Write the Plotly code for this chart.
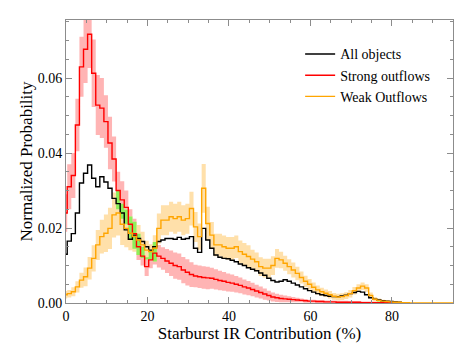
import plotly.graph_objects as go

# histogram bins: width 1, first left edge at -0.7
FIRST_EDGE = -0.7
BIN_WIDTH = 1.0

RED = [
    0.024, 0.031, 0.034, 0.0475, 0.063, 0.0677, 0.0717, 0.0613, 0.0528, 0.052,
    0.0484, 0.0427, 0.0384, 0.030, 0.0275, 0.0255, 0.021, 0.0185, 0.015, 0.0125,
    0.0097, 0.0115, 0.0133, 0.0125, 0.0119, 0.0112, 0.0106, 0.0100, 0.0097, 0.0088,
    0.0082, 0.0076, 0.0072, 0.0070, 0.0068, 0.0067, 0.0066, 0.0063, 0.0060, 0.0058,
    0.0055, 0.0053, 0.0050, 0.0047, 0.0043, 0.0040, 0.0036, 0.0032, 0.0028, 0.0024,
    0.0020, 0.0016, 0.0014, 0.0012, 0.0011, 0.0010, 0.0009, 0.0008, 0.0007, 0.0006,
    0.0005, 0.0005, 0.0004, 0.0004, 0.0003, 0.0003, 0.0003, 0.0002, 0.0002, 0.0002,
    0.0002, 0.0002, 0.0002, 0.0001, 0.0001, 0.0001, 0.0001, 0.0001, 0.0001, 0.0001,
    0.0001, 0.0001, 0.0001, 0.0, 0.0,
]
RED_ERR = [
    0.005, 0.006, 0.006, 0.007, 0.008, 0.009, 0.009, 0.009, 0.008, 0.008,
    0.007, 0.007, 0.006, 0.005, 0.005, 0.0045, 0.004, 0.004, 0.0035, 0.0025,
    0.0025, 0.0022, 0.003, 0.003, 0.003, 0.0032, 0.0034, 0.0035, 0.0035, 0.0035,
    0.0035, 0.0033, 0.003, 0.003, 0.003, 0.003, 0.0028, 0.0027, 0.0026, 0.0025,
    0.0024, 0.0023, 0.0022, 0.0021, 0.002, 0.0019, 0.0018, 0.0017, 0.0016, 0.0015,
    0.0013, 0.0012, 0.0011, 0.001, 0.0009, 0.0008, 0.0007, 0.0006, 0.0005, 0.0005,
    0.0004, 0.0004, 0.0004, 0.0004, 0.0004, 0.0004, 0.0004, 0.0004, 0.0004, 0.0004,
    0.0003, 0.0003, 0.0003, 0.0003, 0.0003, 0.0003, 0.0003, 0.0003, 0.0003, 0.0003,
    0.0002, 0.0002, 0.0001, 0.0, 0.0,
]
BLACK = [
    0.013, 0.0165, 0.0185, 0.024, 0.032, 0.0346, 0.0368, 0.0333, 0.031, 0.0337,
    0.0323, 0.0306, 0.0279, 0.0265, 0.024, 0.0195, 0.0170, 0.0181, 0.0172, 0.0164,
    0.0150, 0.0141, 0.0150, 0.0164, 0.0168, 0.0172, 0.0172, 0.0170, 0.0175, 0.0170,
    0.0172, 0.0177, 0.0146, 0.0135, 0.0199, 0.0168, 0.0146, 0.0128, 0.0122, 0.0119,
    0.0118, 0.0114, 0.0110, 0.0104, 0.0100, 0.0094, 0.0090, 0.0086, 0.0080, 0.0074,
    0.0066, 0.0060, 0.0056, 0.0058, 0.0062, 0.0058, 0.0053, 0.0048, 0.0043, 0.0038,
    0.0033, 0.0029, 0.0025, 0.0022, 0.0020, 0.0018, 0.0017, 0.0017, 0.0019, 0.0021,
    0.0025, 0.0028, 0.0031, 0.0029, 0.0022, 0.0014, 0.0010, 0.0008, 0.0006, 0.0005,
    0.0004, 0.0003, 0.0002, 0.0001, 0.0001,
]
ORANGE = [
    0.0022, 0.0025, 0.0030, 0.0043, 0.0061, 0.0070, 0.0093, 0.0119, 0.0155, 0.0177,
    0.0186, 0.0199, 0.0235, 0.0240, 0.0210, 0.0199, 0.0186, 0.0177, 0.0168, 0.0155,
    0.0141, 0.0137, 0.0146, 0.0199, 0.0221, 0.0221, 0.0230, 0.0225, 0.0230, 0.0221,
    0.0225, 0.0252, 0.0203, 0.0177, 0.0306, 0.0212, 0.0181, 0.0155, 0.0155, 0.0150,
    0.0146, 0.0146, 0.0150, 0.0137, 0.0130, 0.0124, 0.0117, 0.0110, 0.0097, 0.0093,
    0.0093, 0.0100, 0.0119, 0.0115, 0.0106, 0.0097, 0.0088, 0.0079, 0.0068, 0.0058,
    0.0050, 0.0042, 0.0035, 0.0030, 0.0026, 0.0022, 0.0018, 0.0016, 0.0017, 0.0020,
    0.0025, 0.0033, 0.0040, 0.0045, 0.0040, 0.0020, 0.0010, 0.0007, 0.0005, 0.0004,
    0.0003, 0.0002, 0.0002, 0.0001, 0.0001, 0.0, 0.0, 0.0, 0.0, 0.0,
    0.0, 0.0, 0.0, 0.0, 0.0, 0.0, 0.0,
]
ORANGE_ERR = [
    0.001, 0.001, 0.0012, 0.0015, 0.002, 0.0025, 0.003, 0.0035, 0.004, 0.0045,
    0.005, 0.0055, 0.006, 0.006, 0.0055, 0.005, 0.0045, 0.004, 0.004, 0.0035,
    0.0025, 0.002, 0.0035, 0.004, 0.004, 0.004, 0.004, 0.004, 0.004, 0.004,
    0.004, 0.0045, 0.004, 0.0035, 0.0065, 0.0045, 0.0035, 0.003, 0.003, 0.003,
    0.003, 0.003, 0.003, 0.003, 0.003, 0.003, 0.0025, 0.0025, 0.0025, 0.0025,
    0.0025, 0.0025, 0.0025, 0.0022, 0.002, 0.002, 0.002, 0.0018, 0.0016, 0.0015,
    0.0014, 0.0013, 0.0012, 0.0011, 0.001, 0.001, 0.0009, 0.0009, 0.0009, 0.0009,
    0.001, 0.001, 0.001, 0.001, 0.001, 0.0008, 0.0006, 0.0005, 0.0004, 0.0003,
    0.0003, 0.0002, 0.0002, 0.0001, 0.0001, 0.0, 0.0, 0.0, 0.0, 0.0,
    0.0, 0.0, 0.0, 0.0, 0.0, 0.0, 0.0,
]

AXIS_COLOR = "#8c8c8c"
FONTE = "Liberation Serif, Times New Roman, serif"


def edges(n):
    return [FIRST_EDGE + i * BIN_WIDTH for i in range(n + 1)]


def steps(vals):
    return list(vals) + [vals[-1]]


def banda(fig, lo, hi, cor):
    x = edges(len(lo))
    fig.add_trace(go.Scatter(x=x, y=steps(lo), mode="lines", line=dict(width=0, shape="hv"),
                             showlegend=False, hoverinfo="skip"))
    fig.add_trace(go.Scatter(x=x, y=steps(hi), mode="lines", line=dict(width=0, shape="hv"),
                             fill="tonexty", fillcolor=cor, showlegend=False, hoverinfo="skip"))


red_lo = [max(0.0, v - e) for v, e in zip(RED, RED_ERR)]
red_hi = [v + e for v, e in zip(RED, RED_ERR)]
or_lo = [max(0.0, v - e) for v, e in zip(ORANGE, ORANGE_ERR)]
or_hi = [v + e for v, e in zip(ORANGE, ORANGE_ERR)]

# overlap of the two error bands (drawn in green)
n = len(RED)
ov_lo, ov_hi = [], []
for i in range(n):
    lo = max(red_lo[i], or_lo[i])
    hi = min(red_hi[i], or_hi[i])
    if hi <= lo:
        hi = lo
    ov_lo.append(lo)
    ov_hi.append(hi)

fig = go.Figure()
banda(fig, red_lo, red_hi, "#ffb4b4")
banda(fig, or_lo, or_hi, "#ffe0aa")
banda(fig, ov_lo, ov_hi, "#8cf05a")

for nome, vals, cor in [
    ("All objects", BLACK, "#000000"),
    ("Strong outflows", RED, "#ff0000"),
    ("Weak Outflows", ORANGE, "#ffa500"),
]:
    fig.add_trace(go.Scatter(x=edges(len(vals)), y=steps(vals), mode="lines", name=nome,
                             line=dict(color=cor, width=1.4, shape="hv")))

# the page body adds an 8px margin, so the figure is 8px smaller
fig.update_layout(
    width=465,
    height=341,
    margin=dict(l=58, r=20, t=12, b=46),
    paper_bgcolor="white",
    plot_bgcolor="white",
    font=dict(family=FONTE, size=14, color="#000000"),
    legend=dict(x=0.605, y=0.935, xanchor="left", yanchor="top", bgcolor="rgba(0,0,0,0)",
                font=dict(family=FONTE, size=14), tracegroupgap=0, traceorder="normal"),
)
fig.update_xaxes(
    range=[0, 95], dtick=20, tick0=0, ticks="inside", ticklen=6, tickcolor=AXIS_COLOR,
    showline=True, linecolor=AXIS_COLOR, mirror="ticks", showgrid=False, zeroline=False,
    minor=dict(dtick=5, ticks="inside", ticklen=3, tickcolor=AXIS_COLOR, showgrid=False),
    title=dict(text="Starburst IR Contribution (%)", standoff=0), automargin=False,
)
fig.update_yaxes(
    range=[0, 0.0755], dtick=0.02, tick0=0, tickformat=".2f", ticks="inside", ticklen=6,
    tickcolor=AXIS_COLOR, showline=True, linecolor=AXIS_COLOR, mirror="ticks",
    showgrid=False, zeroline=False,
    minor=dict(dtick=0.005, ticks="inside", ticklen=3, tickcolor=AXIS_COLOR, showgrid=False),
    title=dict(text="Normalized Probability", standoff=0), automargin=False,
)

fig.write_html("out.html")
